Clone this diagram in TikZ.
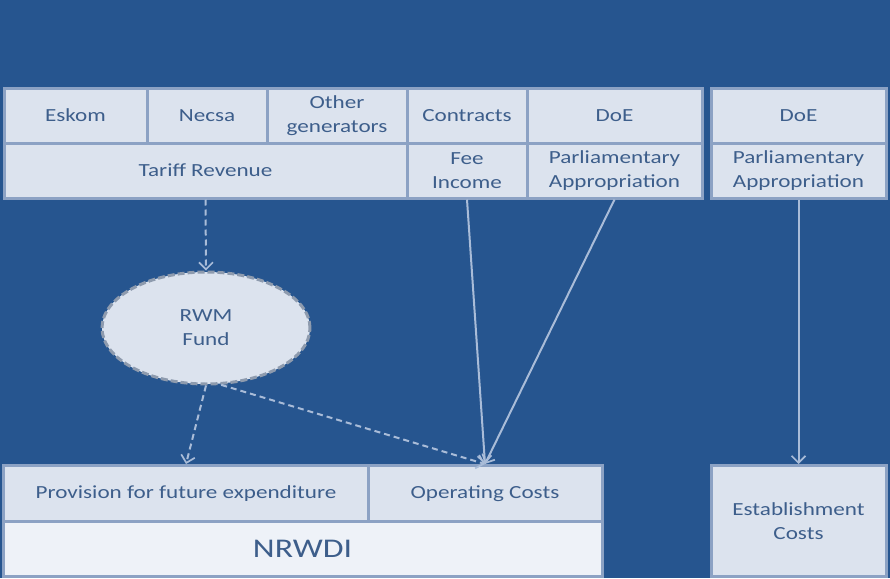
\documentclass[tikz,border=0pt]{standalone}
\usepackage{fontspec}
\setmainfont{Carlito}[FakeStretch=1.25]
\usetikzlibrary{arrows.meta,shapes.geometric}
\definecolor{bgblue}{HTML}{26558F}
\definecolor{cellfill}{HTML}{DCE3EE}
\definecolor{lightfill}{HTML}{EEF2F8}
\definecolor{cellline}{HTML}{8CA2C4}
\definecolor{txtblue}{HTML}{3D5E8B}
\definecolor{arrowcol}{HTML}{A9BCD8}
\definecolor{ellline}{HTML}{8E9BAE}
\tikzset{
  cell/.style={draw=cellline, fill=cellfill, line width=3pt, inner sep=0pt,
    text=txtblue, font=\fontsize{18.5}{24}\selectfont, align=center},
  flow/.style={draw=arrowcol, line width=2pt,
    -{Straight Barb[length=7pt,width=14pt,line width=1.7pt]}},
  dflow/.style={flow, dash pattern=on 6pt off 4pt},
}
\begin{document}
\begin{tikzpicture}[x=1pt,y=-1pt]
\fill[bgblue] (0,0) rectangle (890,578);
\useasboundingbox (0,0) rectangle (890,578);

% revenue sources, upper row
\node[cell, minimum width=143, minimum height=55] (eskom) at (75.5,115.5) {Eskom};
\node[cell, minimum width=120, minimum height=55] (necsa) at (207,115.5) {Necsa};
\node[cell, minimum width=140, minimum height=55] (other) at (337,115.5) {Other\\generators};
\node[cell, minimum width=120, minimum height=55] (contracts) at (467,115.5) {Contracts};
\node[cell, minimum width=175, minimum height=55] (doe) at (614.5,115.5) {DoE};
\node[cell, minimum width=175, minimum height=55] (doe2) at (798.5,115.5) {DoE};

% revenue streams, lower row
\node[cell, minimum width=403, minimum height=55] (tariff) at (205.5,170.5) {Tariff Revenue};
\node[cell, minimum width=120, minimum height=55] (fee) at (467,170.5) {Fee\\Income};
\node[cell, minimum width=175, minimum height=55] (parl) at (614.5,170.5) {Parliamentary\\Appropriation};
\node[cell, minimum width=175, minimum height=55] (parl2) at (798.5,170.5) {Parliamentary\\Appropriation};

% fund
\node[ellipse, draw=ellline, fill=cellfill, line width=3pt, dash pattern=on 7pt off 3pt,
  minimum width=208, minimum height=112, inner sep=0pt, text=txtblue,
  font=\fontsize{18.5}{24}\selectfont, align=center] (fund) at (206,328) {RWM\\Fund};

% cost centres
\node[cell, minimum width=365, minimum height=56] (prov) at (186,493.5) {Provision for future expenditure};
\node[cell, minimum width=234, minimum height=56] (opcost) at (485,493.5) {Operating Costs};
\node[cell, fill=lightfill, minimum width=599, minimum height=55, font=\fontsize{27}{30}\selectfont] (nrwdi) at (302.5,549) {NRWDI};
\node[cell, minimum width=175, minimum height=111] (estab) at (798.5,521) {Establishment\\Costs};

% flows
\draw[dflow] (tariff.south) -- (fund.north);
\draw[dflow] (fund.south) -- (prov.north);
\draw[dflow] (fund.-75) -- (opcost.north);
\draw[flow] (fee.south) -- (opcost.north);
\draw[flow] (parl.south) -- (opcost.north);
\draw[flow] (parl2.south) -- (estab.north);
\end{tikzpicture}
\end{document}
